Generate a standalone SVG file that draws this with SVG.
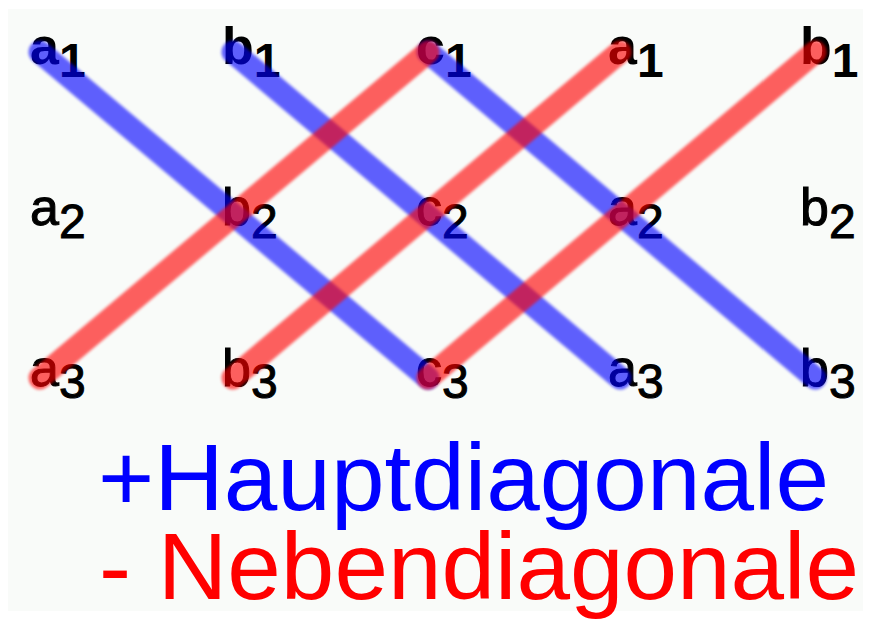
<svg xmlns="http://www.w3.org/2000/svg" width="871" height="619" viewBox="0 0 871 619">
<style>
.lbl{font-family:"Liberation Sans",Arial,sans-serif;font-size:52px;fill:#000;stroke:#000;stroke-width:1}
.r1{font-weight:bold;stroke-width:0}
.sub{font-size:48px}
.line{fill:none;stroke-width:23;stroke-linecap:round;opacity:0.62;filter:url(#soft)}
.blue{stroke:#0000ff}
.red{stroke:#ff0000}
.legend{font-family:"Liberation Sans",Arial,sans-serif;font-size:95px}
</style>
<defs>
<filter id="soft" x="-10%" y="-10%" width="120%" height="120%"><feGaussianBlur stdDeviation="1.8"/></filter>
</defs>
<rect width="871" height="619" fill="#ffffff"/>
<rect x="8" y="9" width="855" height="602" fill="#f9fbf9"/>
<g id="a1_top"><text class="lbl r1" x="30" y="64">a<tspan class="sub" dy="13">1</tspan></text></g>
<g id="b1_top"><text class="lbl r1" x="222" y="64">b<tspan class="sub" dy="13">1</tspan></text></g>
<g id="c1_top"><text class="lbl r1" x="416" y="64">c<tspan class="sub" dy="13">1</tspan></text></g>
<g id="a1_rep"><text class="lbl r1" x="608" y="64">a<tspan class="sub" dy="13">1</tspan></text></g>
<g id="b1_rep"><text class="lbl r1" x="800" y="64">b<tspan class="sub" dy="13">1</tspan></text></g>
<g id="a2"><text class="lbl" x="30" y="225">a<tspan class="sub" dy="13">2</tspan></text></g>
<g id="b2"><text class="lbl" x="222" y="225">b<tspan class="sub" dy="13">2</tspan></text></g>
<g id="c2"><text class="lbl" x="416" y="225">c<tspan class="sub" dy="13">2</tspan></text></g>
<g id="a2_rep"><text class="lbl" x="608" y="225">a<tspan class="sub" dy="13">2</tspan></text></g>
<g id="b2_rep"><text class="lbl" x="800" y="225">b<tspan class="sub" dy="13">2</tspan></text></g>
<g id="a3"><text class="lbl" x="30" y="386">a<tspan class="sub" dy="12">3</tspan></text></g>
<g id="b3"><text class="lbl" x="222" y="386">b<tspan class="sub" dy="12">3</tspan></text></g>
<g id="c3"><text class="lbl" x="416" y="386">c<tspan class="sub" dy="12">3</tspan></text></g>
<g id="a3_rep"><text class="lbl" x="608" y="386">a<tspan class="sub" dy="12">3</tspan></text></g>
<g id="b3_rep"><text class="lbl" x="800" y="386">b<tspan class="sub" dy="12">3</tspan></text></g>
<g id="connectors">
<line class="line blue" x1="40" y1="52" x2="428" y2="378"/>
<line class="line blue" x1="233" y1="52" x2="620" y2="378"/>
<line class="line blue" x1="428" y1="52" x2="815" y2="378"/>
<line class="line red" x1="40" y1="378" x2="428" y2="52"/>
<line class="line red" x1="233" y1="378" x2="620" y2="52"/>
<line class="line red" x1="428" y1="378" x2="815" y2="52"/>
</g>
<g id="legend">
<text class="legend" x="98" y="510" fill="#0000ff" textLength="731" lengthAdjust="spacingAndGlyphs">+Hauptdiagonale</text>
<text class="legend" x="99" y="599" fill="#ff0000" textLength="760" lengthAdjust="spacingAndGlyphs">- Nebendiagonale</text>
</g>
</svg>
